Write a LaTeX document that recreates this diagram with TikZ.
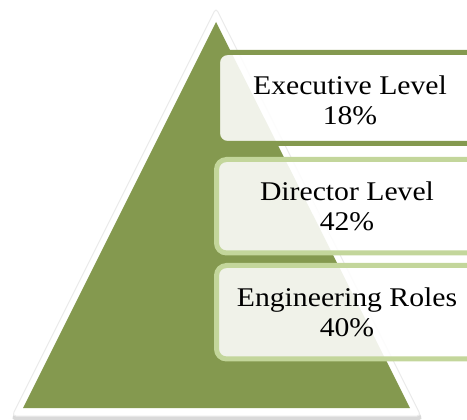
\documentclass[tikz,border=0pt]{standalone}
\usepackage{fontspec}
\setmainfont[FakeStretch=1.1]{Liberation Serif}
\begin{document}
\begin{tikzpicture}[x=1pt,y=-1pt,
  lbl/.style={align=center,font=\fontsize{27}{30}\selectfont,inner sep=0pt},
  topbox/.style={draw=pyrgreen,line width=5pt,rounded corners=10pt,fill=white,fill opacity=0.88},
  lowbox/.style={draw=lightgreen,line width=5pt,rounded corners=10pt,fill=white,fill opacity=0.88}]
\definecolor{pyrgreen}{HTML}{84994F}
\definecolor{lightgreen}{HTML}{C3D69B}
\useasboundingbox (0,0) rectangle (467,420);
\clip (0,0) rectangle (467,420);
% shadow and white outline
\fill[black!25,opacity=0.6,rounded corners=4pt] (216,10) -- (423,420) -- (11,420) -- cycle;
\path[fill=white,draw=black!8,line width=1pt,rounded corners=4pt] (216,8) -- (421,416) -- (12,416) -- cycle;
\fill[pyrgreen] (216,22) -- (410,408) -- (23,408) -- cycle;
% boxes
\path[topbox] (217.5,52.5) rectangle (480,143.5);
\path[lowbox] (216.5,159.5) rectangle (480,253);
\path[lowbox] (216.5,265.5) rectangle (480,359);
\node[lbl] (exec) at (350,100) {Executive Level\\18\%};
\node[lbl] (dir) at (347,206) {Director Level\\42\%};
\node[lbl] (eng) at (347,312) {Engineering Roles\\40\%};
\end{tikzpicture}
\end{document}
